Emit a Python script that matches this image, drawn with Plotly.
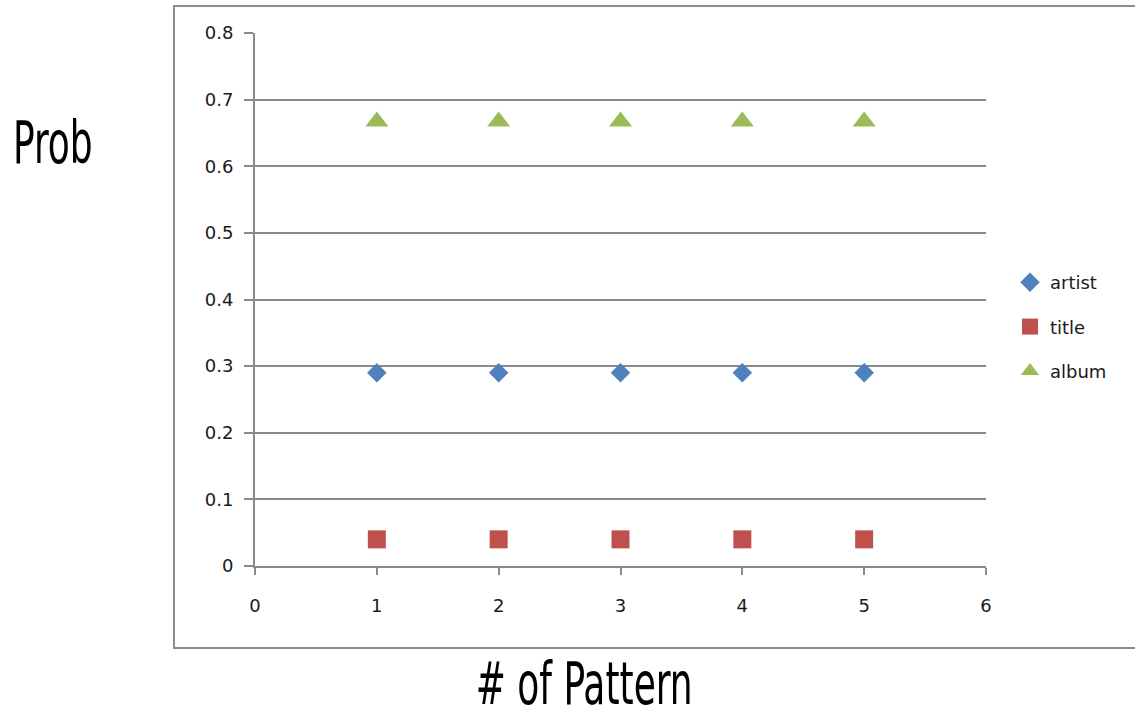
import plotly.graph_objects as go

# Data: probability per pattern count for each field
patterns = [1, 2, 3, 4, 5]
artist = [0.29, 0.29, 0.29, 0.29, 0.29]
title = [0.04, 0.04, 0.04, 0.04, 0.04]
album = [0.667, 0.667, 0.667, 0.667, 0.667]

x_ticks = [0, 1, 2, 3, 4, 5, 6]
y_ticks = [0, 0.1, 0.2, 0.3, 0.4, 0.5, 0.6, 0.7, 0.8]
y_tick_labels = ["0", "0.1", "0.2", "0.3", "0.4", "0.5", "0.6", "0.7", "0.8"]

W, H = 1135, 719
L, R, T, B = 255, 986, 33, 566  # plot area in pixels

GRID = "#8a8a8a"
TICK_FONT = dict(family="DejaVu Sans", size=18, color="#1a1a1a")
TITLE_FONT = dict(family="DejaVu Sans Condensed, DejaVu Sans, sans-serif",
                  size=58, color="#000000")

fig = go.Figure()
fig.add_trace(go.Scatter(x=patterns, y=artist, mode="markers", name="artist", legendgroup="a",
                         marker=dict(symbol="diamond", size=15, color="#4F81BD")))
fig.add_trace(go.Scatter(x=patterns, y=title, mode="markers", name="title", legendgroup="t",
                         marker=dict(symbol="square", size=18, color="#C0504D")))
fig.add_trace(go.Scatter(x=patterns, y=album, mode="markers", name="album", legendgroup="b",
                         marker=dict(symbol="triangle-up", size=20, color="#9BBB59")))


def px_x(p):
    return (p - L) / (R - L)


def px_y(p):
    return (B - p) / (B - T)


# outer chart frame
fig.add_shape(type="rect", xref="paper", yref="paper",
              x0=px_x(174), x1=px_x(1140), y0=px_y(648), y1=px_y(6),
              line=dict(color="#8c8c8c", width=2), fillcolor="rgba(0,0,0,0)", layer="below")

fig.add_annotation(text="Prob", xref="paper", yref="paper", x=px_x(53), y=px_y(143),
                   showarrow=False, font=TITLE_FONT, xanchor="center", yanchor="middle")
fig.add_annotation(text="# of Pattern", xref="paper", yref="paper", x=px_x(584), y=px_y(719),
                   showarrow=False, font=TITLE_FONT, xanchor="center", yanchor="bottom",
                   borderpad=0)

fig.update_layout(
    width=W, height=H,
    margin=dict(l=L, r=W - R, t=T, b=H - B, pad=0),
    paper_bgcolor="white", plot_bgcolor="white",
    showlegend=True,
    legend=dict(x=px_x(1010), y=px_y(264), xanchor="left", yanchor="top",
                font=dict(family="DejaVu Sans", size=18, color="#1a1a1a"),
                tracegroupgap=18, bgcolor="rgba(0,0,0,0)"),
    xaxis=dict(range=[0, 6], tickvals=x_ticks, showgrid=False, zeroline=False,
               showline=True, linecolor=GRID, linewidth=2,
               ticks="outside", ticklen=7, tickwidth=2, tickcolor=GRID,
               tickfont=TICK_FONT, ticklabelstandoff=15),
    yaxis=dict(range=[0, 0.8], tickvals=y_ticks, ticktext=y_tick_labels,
               showgrid=True, gridcolor=GRID, gridwidth=1.5, zeroline=False,
               showline=True, linecolor=GRID, linewidth=2,
               ticks="outside", ticklen=9, tickwidth=2, tickcolor=GRID,
               tickfont=TICK_FONT, ticklabelstandoff=7),
)

# narrow the axis-title lettering horizontally around each title's centre
narrow_titles = """
var style = document.createElement('style');
style.textContent = '.annotation-text { transform-box: fill-box; transform-origin: center; transform: scaleX(0.69); }';
document.head.appendChild(style);
"""

fig.write_html("out.html", post_script=narrow_titles)
